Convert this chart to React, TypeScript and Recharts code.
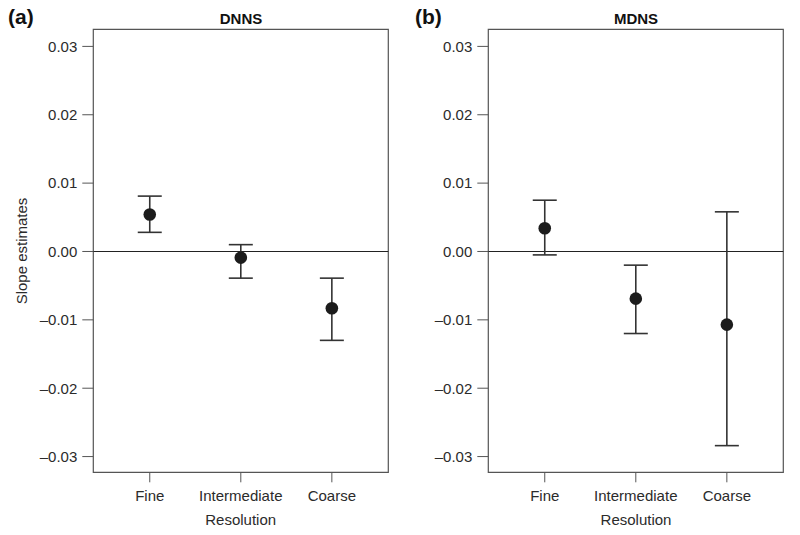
import { ScatterChart, Scatter, XAxis, YAxis, ErrorBar, ReferenceLine, ReferenceArea } from 'recharts'

const resolutions = ['Fine', 'Intermediate', 'Coarse']
const yTicks = [-0.03, -0.02, -0.01, 0, 0.01, 0.02, 0.03]

// DNNS: slope estimate with lower / upper interval ends
const dnnsEstimate = [0.0054, -0.0009, -0.0083]
const dnnsLower = [0.0028, -0.0039, -0.013]
const dnnsUpper = [0.0081, 0.001, -0.0039]

// MDNS
const mdnsEstimate = [0.0034, -0.0069, -0.0107]
const mdnsLower = [-0.0005, -0.012, -0.0284]
const mdnsUpper = [0.0075, -0.002, 0.0058]

const X_DOMAIN: [number, number] = [0.38, 3.62]
const Y_DOMAIN: [number, number] = [-0.0323, 0.0325]

const FONT = '"Liberation Sans", Arial, sans-serif'
const TEXT = '#2b2b2b'
const AXIS = '#555'

function rows(est: number[], lo: number[], hi: number[]) {
  return est.map((v, i) => ({ x: i + 1, y: v, err: [v - lo[i], hi[i] - v] }))
}

function fmtY(v: number) {
  if (Math.abs(v) < 1e-9) return '0.00'
  return v < 0 ? `\u2013${Math.abs(v).toFixed(2)}` : v.toFixed(2)
}

const dot = (p: any) => <circle cx={p.cx} cy={p.cy} r={6.3} fill="#1c1c1c" />

function Panel({ data, left, right }: { data: any[]; left: number; right: number }) {
  const tick = { fontSize: 15, fill: TEXT, fontFamily: FONT }
  return (
    <ScatterChart width={400} height={535} margin={{ top: 29.3, right, left, bottom: 32.7 }}>
      <XAxis
        type="number"
        dataKey="x"
        domain={X_DOMAIN}
        ticks={[1, 2, 3]}
        tickFormatter={(v) => resolutions[v - 1] ?? ''}
        allowDataOverflow
        axisLine={false}
        tickLine={{ stroke: AXIS }}
        tickSize={10}
        tickMargin={8}
        height={30}
        tick={tick}
        interval={0}
      />
      <YAxis
        type="number"
        dataKey="y"
        domain={Y_DOMAIN}
        ticks={yTicks}
        tickFormatter={fmtY}
        allowDataOverflow
        axisLine={false}
        tickLine={{ stroke: AXIS }}
        tickSize={11}
        tickMargin={5}
        width={60}
        tick={tick}
        interval={0}
      />
      <ReferenceArea
        x1={X_DOMAIN[0]}
        x2={X_DOMAIN[1]}
        y1={Y_DOMAIN[0]}
        y2={Y_DOMAIN[1]}
        fill="none"
        stroke={AXIS}
        strokeWidth={1.2}
        ifOverflow="visible"
      />
      <ReferenceLine y={0} stroke="#222" strokeWidth={1.2} />
      <Scatter data={data} shape={dot} isAnimationActive={false}>
        <ErrorBar dataKey="err" direction="y" width={12} stroke="#333" strokeWidth={1.6} isAnimationActive={false} />
      </Scatter>
    </ScatterChart>
  )
}

export default function App() {
  const dnns = rows(dnnsEstimate, dnnsLower, dnnsUpper)
  const mdns = rows(mdnsEstimate, mdnsLower, mdnsUpper)
  return (
    <div style={{ position: 'absolute', left: 0, top: 0, width: 800, height: 535, background: '#fff' }}>
      <div style={{ position: 'absolute', left: 0, top: 0 }}>
        <Panel data={dnns} left={33.3} right={11.7} />
      </div>
      <div style={{ position: 'absolute', left: 400, top: 0 }}>
        <Panel data={mdns} left={28.3} right={16.7} />
      </div>
      <svg width={800} height={535} style={{ position: 'absolute', left: 0, top: 0, pointerEvents: 'none' }}>
        <g fontFamily={FONT} fill={TEXT}>
          <text x={8} y={24} fontSize={21} fontWeight="bold" fill="#111">(a)</text>
          <text x={415} y={24} fontSize={21} fontWeight="bold" fill="#111">(b)</text>
          <text x={241} y={23.5} fontSize={15} fontWeight="bold" textAnchor="middle" fill="#111">DNNS</text>
          <text x={636} y={23.5} fontSize={15} fontWeight="bold" textAnchor="middle" fill="#111">MDNS</text>
          <text x={240.7} y={525} fontSize={15} textAnchor="middle">Resolution</text>
          <text x={636} y={525} fontSize={15} textAnchor="middle">Resolution</text>
          <text x={27} y={251} fontSize={15} textAnchor="middle" transform="rotate(-90 27 251)">Slope estimates</text>
        </g>
      </svg>
    </div>
  )
}
